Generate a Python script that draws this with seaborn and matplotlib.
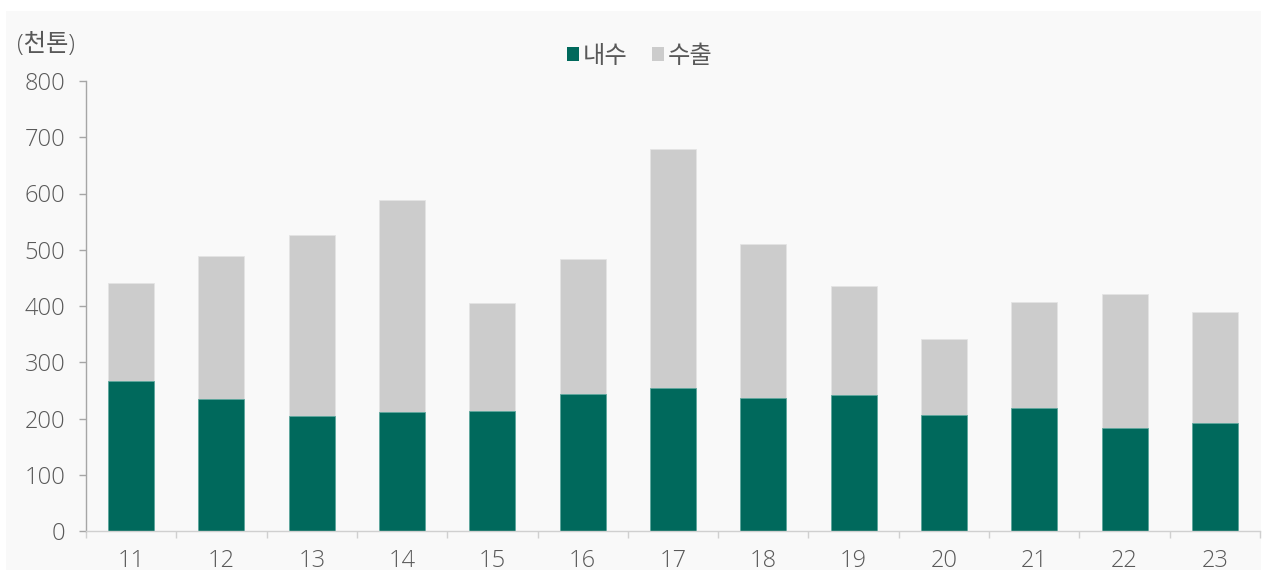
import matplotlib
matplotlib.use("Agg")
import matplotlib.pyplot as plt
from matplotlib.patches import Rectangle
import numpy as np
import pandas as pd
import seaborn as sns

# Years (two-digit) and volumes in thousand tonnes
years = ["11", "12", "13", "14", "15", "16", "17", "18", "19", "20", "21", "22", "23"]
domestic = [267, 235, 204, 211, 214, 243, 255, 237, 242, 207, 218, 183, 192]
export = [174, 254, 322, 377, 191, 240, 425, 274, 194, 134, 190, 238, 197]

GREEN = "#00695C"
GRAY = "#CCCCCC"
TEXT = "#595959"

sns.set_theme(style="white")
plt.rcParams["font.family"] = ["Open Sans", "Noto Sans CJK KR", "DejaVu Sans"]

df = pd.DataFrame({"year": years, "domestic": domestic, "export": export})
df["total"] = df["domestic"] + df["export"]

fig = plt.figure(figsize=(12.63, 5.74), dpi=100, facecolor="white")
# light panel behind the chart
fig.patches.append(Rectangle((6 / 1263, 1 - 570 / 574), (1261 - 6) / 1263, (570 - 11) / 574,
                             transform=fig.transFigure, facecolor="#F9F9F9",
                             edgecolor="none", zorder=-10))

ax = fig.add_axes([86 / 1263, 1 - 531 / 574, (1260 - 86) / 1263, (531 - 81) / 574])
ax.set_facecolor("none")

sns.barplot(data=df, x="year", y="total", color=GRAY, width=0.51, ax=ax,
            saturation=1, edgecolor="#E4E4E4", linewidth=0.6, label="수출")
sns.barplot(data=df, x="year", y="domestic", color=GREEN, width=0.51, ax=ax,
            saturation=1, edgecolor="#5FA89E", linewidth=0.6, label="내수")

ax.set_ylim(0, 800)
ax.set_xlim(-0.5, len(years) - 0.5)
ax.set_yticks(np.arange(0, 801, 100))
ax.set_xlabel("")
ax.set_ylabel("")

for s in ["top", "right"]:
    ax.spines[s].set_visible(False)
ax.spines["left"].set_color("#A6A6A6")
ax.spines["bottom"].set_color("#D0D0D0")
ax.spines["left"].set_linewidth(1.0)
ax.spines["bottom"].set_linewidth(1.0)

ax.tick_params(axis="y", which="major", left=True, length=5, width=1.0,
               color="#A6A6A6", labelsize=17, labelcolor=TEXT, pad=10)
ax.tick_params(axis="x", which="major", bottom=False, labelsize=17,
               labelcolor=TEXT, pad=7)
# category separator ticks on the x axis
ax.set_xticks(np.arange(-0.5, len(years) - 0.5 + 0.01, 1), minor=True)
ax.tick_params(axis="x", which="minor", bottom=True, length=5, width=1.0,
               color="#D0D0D0")

for lbl in ax.get_yticklabels() + ax.get_xticklabels():
    lbl.set_fontweight("light")

fig.text(17 / 1263, 1 - 45 / 574, "(천톤)", fontsize=17.5, color=TEXT,
         va="center", ha="left", fontweight="light")

handles, labels = ax.get_legend_handles_labels()
order = [labels.index("내수"), labels.index("수출")]
leg = ax.legend([handles[i] for i in order], [labels[i] for i in order],
                loc="center", bbox_to_anchor=(640 / 1263, 1 - 57 / 574),
                bbox_transform=fig.transFigure, ncol=2, frameon=False,
                fontsize=17.5, handlelength=0.5, handleheight=0.5,
                handletextpad=0.15, columnspacing=1.0)
for t in leg.get_texts():
    t.set_color(TEXT)
for h in leg.legend_handles:
    h.set_edgecolor("none")

fig.savefig("out.png", dpi=100, facecolor="white")
